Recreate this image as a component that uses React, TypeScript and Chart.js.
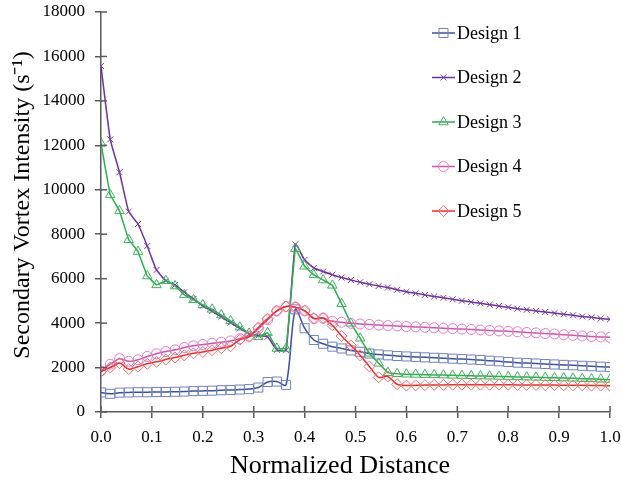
import React, { useEffect, useRef } from 'react';
import { Chart, registerables } from 'chart.js';

Chart.register(...registerables);

const xValues = [
  0, 0.0182, 0.0364, 0.0545, 0.0727, 0.0909, 0.1091, 0.1273, 0.1455, 0.1636,
  0.1818, 0.2, 0.2182, 0.2364, 0.2545, 0.2727, 0.2909, 0.3091, 0.3273, 0.3455,
  0.3636, 0.3818, 0.4, 0.4182, 0.4364, 0.4545, 0.4727, 0.4909, 0.5091, 0.5273,
  0.5455, 0.5636, 0.5818, 0.6, 0.6182, 0.6364, 0.6545, 0.6727, 0.6909, 0.7091,
  0.7273, 0.7455, 0.7636, 0.7818, 0.8, 0.8182, 0.8364, 0.8545, 0.8727, 0.8909,
  0.9091, 0.9273, 0.9455, 0.9636, 0.9818, 1.0,
];

const design1 = [
  880, 820, 870, 880, 890, 890, 900, 900, 910, 920, 940, 950, 960, 980, 990, 1010, 1030, 1100, 1350, 1370, 1220,
  4620, 3770, 3240, 3070, 2940, 2860, 2770, 2710, 2630, 2590, 2550, 2520,
  2500, 2480, 2460, 2440, 2420, 2400, 2380, 2360, 2340, 2310, 2280, 2250, 2220, 2200, 2180, 2160, 2140, 2120, 2100, 2080, 2060, 2040, 2020,
];

const design2 = [
  15570, 12270, 10790, 9020, 8460, 7470, 6390, 5910, 5720, 5390, 5090, 4780, 4540, 4280, 4020, 3760, 3520, 3440, 3380, 2800, 2780, 7550, 6850,
  6480, 6320, 6180, 6050, 5940, 5840, 5750, 5670, 5600, 5500, 5410, 5340, 5270, 5200, 5140, 5070, 5010, 4950, 4890, 4830, 4770, 4710,
  4650, 4600, 4550, 4500, 4450, 4400, 4350, 4300, 4260, 4210, 4170,
];

const design3 = [
  12090, 9770, 9050, 7750, 7220, 6120, 5720, 5910, 5670, 5270, 5050, 4820, 4620, 4360, 4100, 3820, 3540, 3390, 3570, 2860, 2860,
  7350, 6560, 6170, 5940, 5700, 4870, 3990, 3320, 2640, 2190, 1770, 1720, 1700,
  1690, 1680, 1670, 1660, 1650, 1640, 1630, 1620, 1610, 1600, 1590, 1580, 1570, 1560, 1550, 1540, 1530, 1515, 1500, 1490, 1475, 1460,
];

const design4 = [
  1850, 2150, 2400, 2280, 2350, 2500, 2620, 2720, 2800, 2900, 2980, 3040, 3090, 3140, 3200, 3300, 3420, 3750, 4150, 4550, 4750,
  4720, 4550, 4200, 4220, 4080, 4040, 3990, 3960, 3940, 3910, 3890, 3870, 3850, 3830, 3810, 3790, 3770, 3750, 3730, 3710,
  3690, 3670, 3650, 3630, 3610, 3580, 3560, 3530, 3510, 3480, 3450, 3420, 3400, 3380, 3360,
];

const design5 = [
  1820, 2000, 2200, 1930, 2040, 2170, 2260, 2360, 2450, 2550, 2640, 2700, 2780, 2870, 2960, 3250, 3380, 3800, 4200, 4550, 4750,
  4720, 4560, 4220, 4230, 3900, 3420, 3000, 2550, 2050, 1560, 1600, 1250,
  1190, 1200, 1210, 1220, 1220, 1230, 1230, 1230, 1230, 1230, 1230, 1230, 1220, 1220, 1220, 1210, 1210, 1200, 1200, 1200, 1190, 1190, 1180,
];

const seriesNames = ['Design 1', 'Design 2', 'Design 3', 'Design 4', 'Design 5'];
const seriesValues = [design1, design2, design3, design4, design5];
const lineColors = ['#3c4fa6', '#7030a0', '#2eae4e', '#d452ae', '#f42a2a'];
const markerColors = ['#6f82c8', '#7a3aa8', '#3bb55a', '#e67bc8', '#f46c6c'];
const markerStyles = ['rect', 'crossRot', 'triangle', 'circle', 'rectRot'];
const markerRadii = [6.4, 4.2, 5.5, 5, 5.5];
const tensions = [0.3, 0.15, 0.05, 0.3, 0.3];

const xTitle = 'Normalized Distance';
const yTitle = 'Secondary Vortex Intensity (s\u207B\u00B9)';

const AXIS_COLOR = '#5a5a5a';
const FONT = "'Liberation Serif', 'Times New Roman', serif";

function drawMarker(ctx: CanvasRenderingContext2D, style: string, x: number, y: number, r: number) {
  ctx.beginPath();
  if (style === 'rect') {
    const s = r * Math.SQRT1_2;
    ctx.rect(x - s, y - s, 2 * s, 2 * s);
  } else if (style === 'crossRot') {
    const o = r * Math.SQRT1_2;
    ctx.moveTo(x - o, y - o);
    ctx.lineTo(x + o, y + o);
    ctx.moveTo(x - o, y + o);
    ctx.lineTo(x + o, y - o);
  } else if (style === 'triangle') {
    ctx.moveTo(x, y - r);
    ctx.lineTo(x + r * Math.sin((2 * Math.PI) / 3), y - r * Math.cos((2 * Math.PI) / 3));
    ctx.lineTo(x + r * Math.sin((4 * Math.PI) / 3), y - r * Math.cos((4 * Math.PI) / 3));
    ctx.closePath();
  } else if (style === 'circle') {
    ctx.arc(x, y, r, 0, Math.PI * 2);
  } else if (style === 'rectRot') {
    ctx.moveTo(x - r, y);
    ctx.lineTo(x, y - r);
    ctx.lineTo(x + r, y);
    ctx.lineTo(x, y + r);
    ctx.closePath();
  }
  ctx.stroke();
}

const decorPlugin = {
  id: 'decor',
  afterDraw(chart: any) {
    const { ctx, chartArea, scales } = chart;
    const xs = scales.x;
    const ys = scales.y;
    ctx.save();
    // inner halves of the crossing tick marks
    ctx.strokeStyle = AXIS_COLOR;
    ctx.lineWidth = 1.5;
    ys.ticks.forEach((_t: any, i: number) => {
      const py = ys.getPixelForTick(i);
      ctx.beginPath();
      ctx.moveTo(chartArea.left, py);
      ctx.lineTo(chartArea.left + 6, py);
      ctx.stroke();
    });
    xs.ticks.forEach((_t: any, i: number) => {
      const px = xs.getPixelForTick(i);
      ctx.beginPath();
      ctx.moveTo(px, chartArea.bottom);
      ctx.lineTo(px, chartArea.bottom - 6);
      ctx.stroke();
    });

    // axis titles
    ctx.fillStyle = '#000';
    ctx.textAlign = 'center';
    ctx.textBaseline = 'middle';
    ctx.font = `26px ${FONT}`;
    ctx.fillText(xTitle, 340, 466);
    ctx.save();
    ctx.translate(23, 205);
    ctx.rotate(-Math.PI / 2);
    ctx.font = `24px ${FONT}`;
    ctx.fillText(yTitle, 0, 0);
    ctx.restore();

    // legend inside the plot
    const left = 432;
    const lineLen = 23;
    const startY = 33;
    const gap = 44.5;
    seriesNames.forEach((name, i) => {
      const y = startY + i * gap;
      ctx.strokeStyle = lineColors[i];
      ctx.lineWidth = 1.5;
      ctx.beginPath();
      ctx.moveTo(left, y);
      ctx.lineTo(left + lineLen, y);
      ctx.stroke();
      ctx.strokeStyle = markerColors[i];
      ctx.lineWidth = 1;
      drawMarker(ctx, markerStyles[i], left + lineLen / 2, y, markerRadii[i]);
      ctx.fillStyle = '#000';
      ctx.font = `18px ${FONT}`;
      ctx.textAlign = 'left';
      ctx.textBaseline = 'middle';
      ctx.fillText(name, left + lineLen + 2, y + 1);
    });
    ctx.restore();
  },
};

function clearScalePadding(scale: any) {
  scale.paddingTop = 0;
  scale.paddingBottom = 0;
  scale.paddingLeft = 0;
  scale.paddingRight = 0;
}

export default function App() {
  const canvasRef = useRef<HTMLCanvasElement | null>(null);

  useEffect(() => {
    document.body.style.margin = '0';
    const canvas = canvasRef.current;
    if (!canvas) return;

    const datasets = seriesNames.map((name, i) => ({
      label: name,
      data: xValues.map((x, j) => ({ x, y: seriesValues[i][j] })),
      borderColor: lineColors[i],
      borderWidth: 1.5,
      tension: tensions[i],
      pointStyle: markerStyles[i],
      pointRadius: markerRadii[i],
      pointBorderColor: markerColors[i],
      pointBackgroundColor: 'rgba(0,0,0,0)',
      pointBorderWidth: 1,
      fill: false,
      order: seriesNames.length - i,
    }));

    const chart = new Chart(canvas, {
      type: 'line',
      data: { datasets },
      options: {
        responsive: false,
        animation: false,
        devicePixelRatio: 1,
        layout: { padding: { left: 0, right: 12, top: 12, bottom: 0 } },
        plugins: {
          legend: { display: false },
          tooltip: { enabled: false },
        },
        scales: {
          x: {
            type: 'linear',
            min: 0,
            max: 1,
            afterFit: (scale: any) => {
              scale.height = 70;
              clearScalePadding(scale);
            },
            ticks: {
              stepSize: 0.1,
              color: '#000',
              font: { family: FONT, size: 17 },
              padding: 9,
              maxRotation: 0,
              callback: (v: any) => Number(v).toFixed(1),
            },
            grid: {
              drawOnChartArea: false,
              color: AXIS_COLOR,
              lineWidth: 1.5,
              tickLength: 6,
            },
            border: { color: AXIS_COLOR, width: 1.5 },
          },
          y: {
            type: 'linear',
            min: 0,
            max: 18000,
            afterFit: (scale: any) => {
              scale.width = 101;
              clearScalePadding(scale);
            },
            ticks: {
              stepSize: 2000,
              color: '#000',
              font: { family: FONT, size: 17 },
              padding: 10,
              callback: (v: any) => String(v),
            },
            grid: {
              drawOnChartArea: false,
              color: AXIS_COLOR,
              lineWidth: 1.5,
              tickLength: 6,
            },
            border: { color: AXIS_COLOR, width: 1.5 },
          },
        },
      },
      plugins: [decorPlugin],
    } as any);

    return () => {
      chart.destroy();
    };
  }, []);

  return <canvas ref={canvasRef} width={622} height={482} style={{ display: 'block' }} />;
}
